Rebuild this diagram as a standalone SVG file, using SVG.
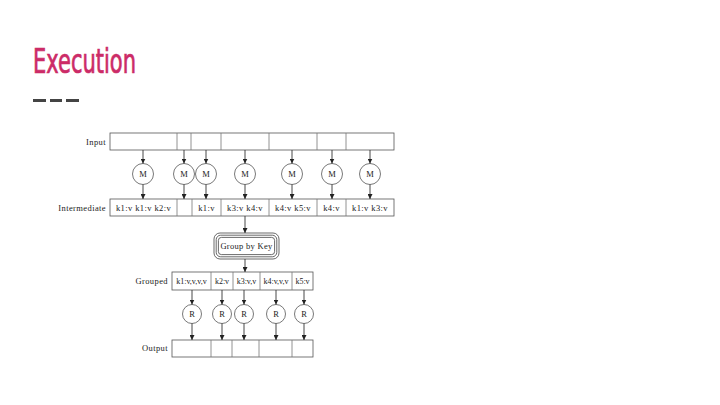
<svg xmlns="http://www.w3.org/2000/svg" width="720" height="405" viewBox="0 0 720 405">
<defs>
<marker id="ah" viewBox="0 0 6 6" refX="6" refY="3" markerWidth="5" markerHeight="5" orient="auto" markerUnits="userSpaceOnUse">
<path d="M0,0 L6,3 L0,6 z" fill="#222"/>
</marker>
<style>
.bar{fill:#fff;stroke:#555;stroke-width:0.8}
.div{stroke:#777;stroke-width:0.8}
.t{font-family:"Liberation Serif","DejaVu Serif",serif;font-size:8.5px;letter-spacing:0.4px;fill:#222}
.g{font-family:"Liberation Serif","DejaVu Serif",serif;font-size:8px;fill:#222;text-anchor:middle}
.lab{font-family:"Liberation Serif","DejaVu Serif",serif;font-size:8.5px;letter-spacing:0.4px;fill:#222;text-anchor:end}
.c{fill:#fff;stroke:#555;stroke-width:0.8}
.ct{font-family:"Liberation Serif","DejaVu Serif",serif;font-size:8.5px;fill:#222;text-anchor:middle}
.a{stroke:#333;stroke-width:0.9;fill:none;marker-end:url(#ah)}
.mid{text-anchor:middle}
</style>
</defs>
<rect width="720" height="405" fill="#fff"/>
<g id="title">
<text x="33" y="73" font-family="'Liberation Sans Narrow','DejaVu Sans Condensed','Liberation Sans',sans-serif" font-size="34" fill="#cc2b67" stroke="#cc2b67" stroke-width="0.7" textLength="103" lengthAdjust="spacingAndGlyphs">Execution</text>
<rect x="33" y="99" width="13" height="3" fill="#444"/>
<rect x="50" y="99" width="12" height="3" fill="#444"/>
<rect x="66" y="99" width="13" height="3" fill="#444"/>
</g>
<g id="input">
<text class="lab" x="106" y="145">Input</text>
<rect class="bar" x="110" y="133" width="284" height="17"/>
<path class="div" d="M177,133V150M191,133V150M221,133V150M269,133V150M317,133V150M346,133V150"/>
</g>
<g id="mappers">
<g id="m1"><circle class="c" cx="143" cy="174" r="10.5"/><text class="ct" x="143" y="177">M</text></g>
<g id="m2"><circle class="c" cx="184" cy="174" r="10.5"/><text class="ct" x="184" y="177">M</text></g>
<g id="m3"><circle class="c" cx="206" cy="174" r="10.5"/><text class="ct" x="206" y="177">M</text></g>
<g id="m4"><circle class="c" cx="245" cy="174" r="10.5"/><text class="ct" x="245" y="177">M</text></g>
<g id="m5"><circle class="c" cx="292" cy="174" r="10.5"/><text class="ct" x="292" y="177">M</text></g>
<g id="m6"><circle class="c" cx="332" cy="174" r="10.5"/><text class="ct" x="332" y="177">M</text></g>
<g id="m7"><circle class="c" cx="370" cy="174" r="10.5"/><text class="ct" x="370" y="177">M</text></g>
</g>
<g id="intermediate">
<text class="lab" x="106" y="211">Intermediate</text>
<rect class="bar" x="110" y="199" width="284" height="17"/>
<path class="div" d="M177,199V216M192,199V216M221,199V216M269,199V216M317,199V216M346,199V216"/>
<text class="t mid" x="143.5" y="211">k1:v k1:v k2:v</text>
<text class="t mid" x="206.5" y="211">k1:v</text>
<text class="t mid" x="245" y="211">k3:v k4:v</text>
<text class="t mid" x="293" y="211">k4:v k5:v</text>
<text class="t mid" x="331.5" y="211">k4:v</text>
<text class="t mid" x="370" y="211">k1:v k3:v</text>
</g>
<g id="groupbykey">
<rect x="214" y="233" width="65" height="26" rx="6" fill="#fff" stroke="#444" stroke-width="0.8"/>
<rect x="216.2" y="235.2" width="60.6" height="21.6" rx="4.5" fill="none" stroke="#444" stroke-width="0.8"/>
<rect x="218.4" y="237.4" width="56.2" height="17.2" rx="3" fill="none" stroke="#444" stroke-width="0.8"/>
<text class="ct" x="246.5" y="249" font-size="8" letter-spacing="0.3">Group by Key</text>
</g>
<g id="grouped">
<text class="lab" x="168" y="284">Grouped</text>
<rect class="bar" x="172" y="272" width="141" height="18"/>
<path class="div" d="M211,272V290M233,272V290M260,272V290M292,272V290"/>
<text class="g" x="191.5" y="284">k1:v,v,v,v</text>
<text class="g" x="222" y="284">k2:v</text>
<text class="g" x="246.5" y="284">k3:v,v</text>
<text class="g" x="276" y="284">k4:v,v,v</text>
<text class="g" x="302.5" y="284">k5:v</text>
</g>
<g id="reducers">
<g id="r1"><circle class="c" cx="192" cy="314" r="9.5"/><text class="ct" x="192" y="317">R</text></g>
<g id="r2"><circle class="c" cx="222" cy="314" r="9.5"/><text class="ct" x="222" y="317">R</text></g>
<g id="r3"><circle class="c" cx="244" cy="314" r="9.5"/><text class="ct" x="244" y="317">R</text></g>
<g id="r4"><circle class="c" cx="276" cy="314" r="9.5"/><text class="ct" x="276" y="317">R</text></g>
<g id="r5"><circle class="c" cx="304" cy="314" r="9.5"/><text class="ct" x="304" y="317">R</text></g>
</g>
<g id="output">
<text class="lab" x="168" y="351">Output</text>
<rect class="bar" x="172" y="340" width="141" height="17"/>
<path class="div" d="M211,340V357M232,340V357M259,340V357M292,340V357"/>
</g>
<g id="connectors">
<path class="a" d="M143,150V163.5"/>
<path class="a" d="M184,150V163.5"/>
<path class="a" d="M206,150V163.5"/>
<path class="a" d="M245,150V163.5"/>
<path class="a" d="M292,150V163.5"/>
<path class="a" d="M332,150V163.5"/>
<path class="a" d="M370,150V163.5"/>
<path class="a" d="M143,184.5V199"/>
<path class="a" d="M184,184.5V199"/>
<path class="a" d="M206,184.5V199"/>
<path class="a" d="M245,184.5V199"/>
<path class="a" d="M292,184.5V199"/>
<path class="a" d="M332,184.5V199"/>
<path class="a" d="M370,184.5V199"/>
<path class="a" d="M245,216V233" stroke-width="1.2"/>
<path class="a" d="M245,259V272" stroke-width="1.2"/>
<path class="a" d="M192,290V304.5"/>
<path class="a" d="M222,290V304.5"/>
<path class="a" d="M244,290V304.5"/>
<path class="a" d="M276,290V304.5"/>
<path class="a" d="M304,290V304.5"/>
<path class="a" d="M192,323.5V340"/>
<path class="a" d="M222,323.5V340"/>
<path class="a" d="M244,323.5V340"/>
<path class="a" d="M276,323.5V340"/>
<path class="a" d="M304,323.5V340"/>
</g>
</svg>
